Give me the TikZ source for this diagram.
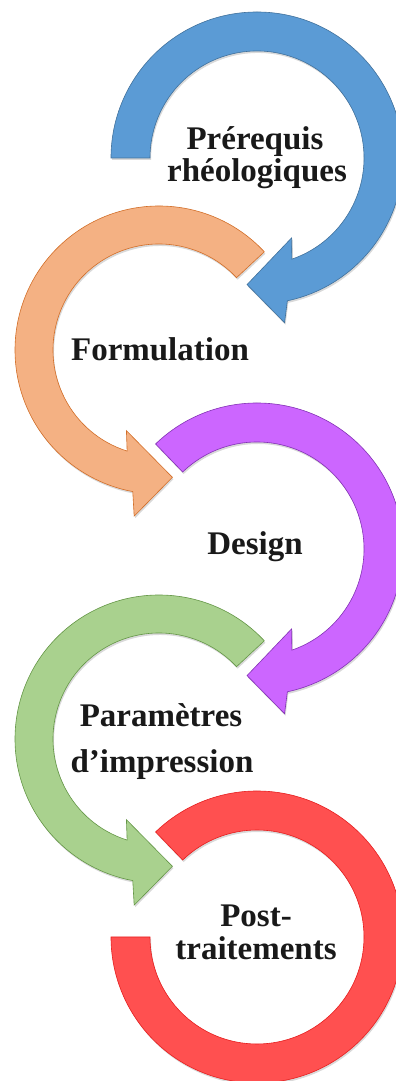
\documentclass[tikz,border=0pt]{standalone}
\usepackage{fontspec}
\setmainfont{Liberation Serif}
\usetikzlibrary{shadows}
\definecolor{cblue}{RGB}{91,155,213}
\definecolor{cblueD}{RGB}{65,113,156}
\definecolor{corange}{RGB}{244,177,131}
\definecolor{corangeD}{RGB}{210,110,40}
\definecolor{cpurple}{RGB}{204,102,255}
\definecolor{cpurpleD}{RGB}{130,50,180}
\definecolor{cgreen}{RGB}{169,209,142}
\definecolor{cgreenD}{RGB}{100,150,70}
\definecolor{cred}{RGB}{255,80,80}
\definecolor{credD}{RGB}{230,30,30}
\tikzset{
  ring/.style={line width=0.6pt, line join=miter,
    drop shadow={opacity=0.3, shadow xshift=1pt, shadow yshift=-2pt}},
  lbl/.style={font=\fontsize{33}{35}\selectfont\bfseries, inner sep=0pt, anchor=base, text=black!90}
}
% clockwise circular arrow, head at bottom
\newcommand\cwArrow[3]{%
  \path[ring,#3,shift={#1}] (#2:146) arc[start angle=#2, end angle=-78, radius=146]
    -- (-80.5:167) -- (-94.5:127) -- (-66.5:87) -- (-71:107)
    arc[start angle=-71, end angle=#2, radius=107] -- cycle;}
% counter-clockwise circular arrow, head at bottom
\newcommand\ccwArrow[3]{%
  \path[ring,#3,shift={#1}] (#2:144) arc[start angle=#2, end angle=259.5, radius=144]
    -- (261.5:168) -- (276:128) -- (248:87) -- (252.5:106)
    arc[start angle=252.5, end angle=#2, radius=106] -- cycle;}
\begin{document}
\begin{tikzpicture}[x=1pt,y=1pt]
\useasboundingbox (0,0) rectangle (396,1081);
\coordinate (cB) at (257,923);
\coordinate (cO) at (159,731);
\coordinate (cP) at (257,532);
\coordinate (cG) at (159,342);
\coordinate (cR) at (257,144);
\cwArrow{(cB)}{180}{fill=cblue, draw=cblueD}
\ccwArrow{(cO)}{43}{fill=corange, draw=corangeD}
\cwArrow{(cP)}{134}{fill=cpurple, draw=cpurpleD}
\ccwArrow{(cG)}{43}{fill=cgreen, draw=cgreenD}
\path[ring, fill=cred, draw=credD, shift={(cR)}] (134:146) arc[start angle=134, end angle=-180, radius=146]
  -- (-180:107) arc[start angle=-180, end angle=134, radius=107] -- cycle;
\node[lbl] (t1a) at (255,931) {Prérequis};
\node[lbl] (t1b) at (257,899) {rhéologiques};
\node[lbl] (t2) at (160,720) {Formulation};
\node[lbl] (t3) at (255,526) {Design};
\node[lbl] (t4a) at (161,354) {Paramètres};
\node[lbl] (t4b) at (162,308) {d’impression};
\node[lbl] (t5a) at (256,154) {Post-};
\node[lbl] (t5b) at (256,121) {traitements};
\end{tikzpicture}
\end{document}
